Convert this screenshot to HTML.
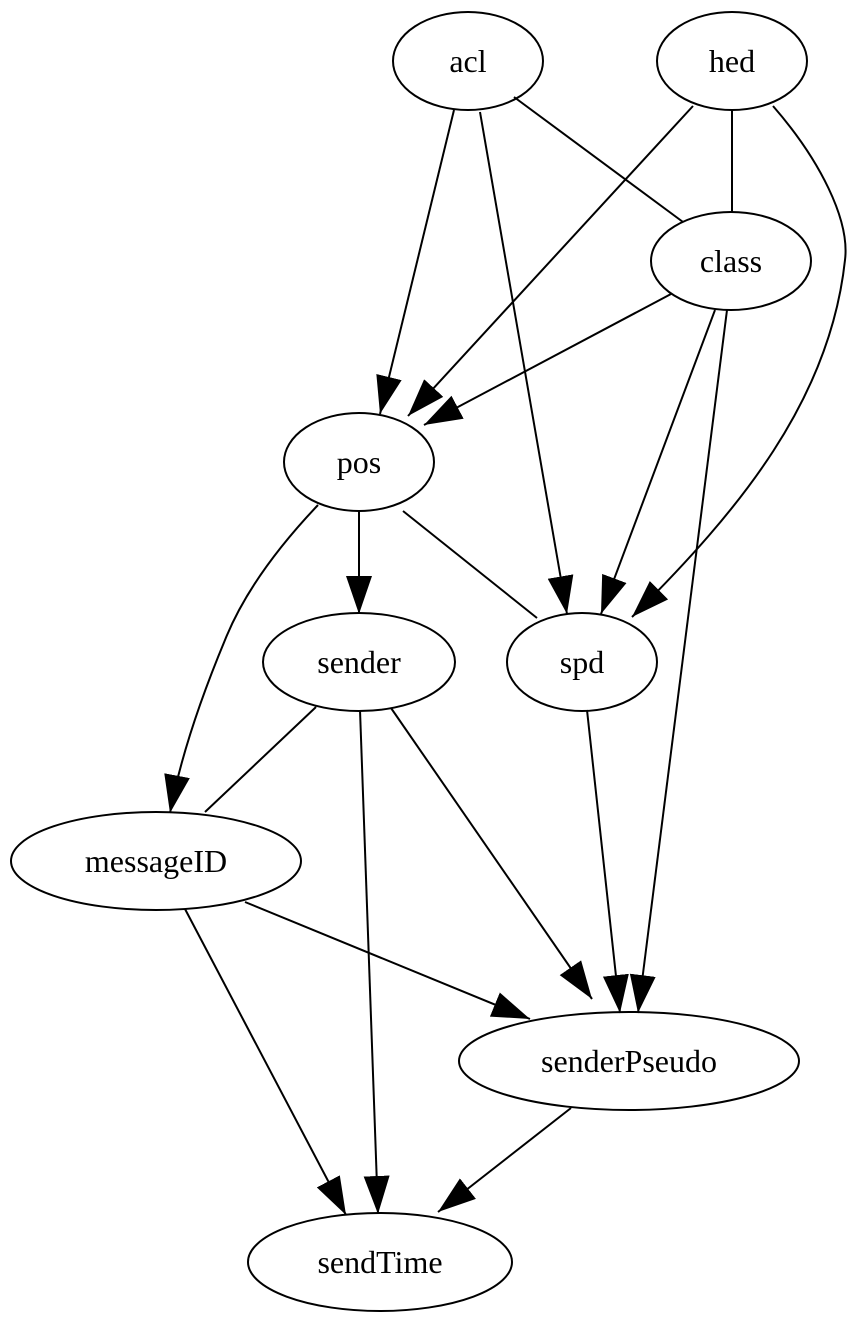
<!DOCTYPE html>
<html><head><meta charset="utf-8"><style>
html,body{margin:0;padding:0;background:#fff;}
svg{display:block;}
text{font-family:"Liberation Serif",serif;font-size:32px;fill:#000;}
</style></head><body>
<svg width="858" height="1322" viewBox="0 0 858 1322" xmlns="http://www.w3.org/2000/svg">
<defs>
<marker id="a" markerUnits="userSpaceOnUse" markerWidth="40" markerHeight="28" refX="38" refY="13" orient="auto">
<path d="M0,0 L38,13 L0,26 Z" fill="#000"/>
</marker>
</defs>
<g stroke="#000" stroke-width="2" fill="none">
<ellipse cx="468" cy="61" rx="75" ry="49"/>
<ellipse cx="732" cy="61" rx="75" ry="49"/>
<ellipse cx="731" cy="261" rx="80" ry="49"/>
<ellipse cx="359" cy="462" rx="75" ry="49"/>
<ellipse cx="359" cy="662" rx="96" ry="49"/>
<ellipse cx="582" cy="662" rx="75" ry="49"/>
<ellipse cx="156" cy="861" rx="145" ry="49"/>
<ellipse cx="629" cy="1061" rx="170" ry="49"/>
<ellipse cx="380" cy="1262" rx="132" ry="49"/>

<line x1="454" y1="110" x2="380" y2="414" marker-end="url(#a)"/>
<line x1="480" y1="112" x2="567" y2="614" marker-end="url(#a)"/>
<line x1="514" y1="97" x2="683" y2="222"/>
<line x1="732" y1="110" x2="732" y2="212"/>
<line x1="693" y1="106" x2="408" y2="416" marker-end="url(#a)"/>
<path d="M773,106 C820,160 850,220 845,260 C830,400 740,510 632,617" marker-end="url(#a)"/>
<line x1="671" y1="294" x2="424" y2="425" marker-end="url(#a)"/>
<line x1="715" y1="310" x2="601" y2="614" marker-end="url(#a)"/>
<line x1="727" y1="310" x2="638" y2="1013" marker-end="url(#a)"/>
<line x1="359" y1="511" x2="359" y2="614" marker-end="url(#a)"/>
<line x1="403" y1="511" x2="537" y2="618"/>
<path d="M318,505 C280,545 245,590 225,640 C200,700 180,760 170,813" marker-end="url(#a)"/>
<line x1="316" y1="707" x2="205" y2="812"/>
<line x1="360" y1="710" x2="378" y2="1214" marker-end="url(#a)"/>
<line x1="391" y1="708" x2="592" y2="999" marker-end="url(#a)"/>
<line x1="587" y1="710" x2="620" y2="1013" marker-end="url(#a)"/>
<line x1="245" y1="902" x2="530" y2="1019" marker-end="url(#a)"/>
<line x1="185" y1="909" x2="346" y2="1215" marker-end="url(#a)"/>
<line x1="571" y1="1108" x2="438" y2="1212" marker-end="url(#a)"/>
</g>
<g text-anchor="middle">
<text x="468" y="72">acl</text>
<text x="732" y="72">hed</text>
<text x="731" y="272">class</text>
<text x="359" y="473">pos</text>
<text x="359" y="673">sender</text>
<text x="582" y="673">spd</text>
<text x="156" y="872">messageID</text>
<text x="629" y="1072">senderPseudo</text>
<text x="380" y="1273">sendTime</text>
</g>
</svg>
</body></html>
